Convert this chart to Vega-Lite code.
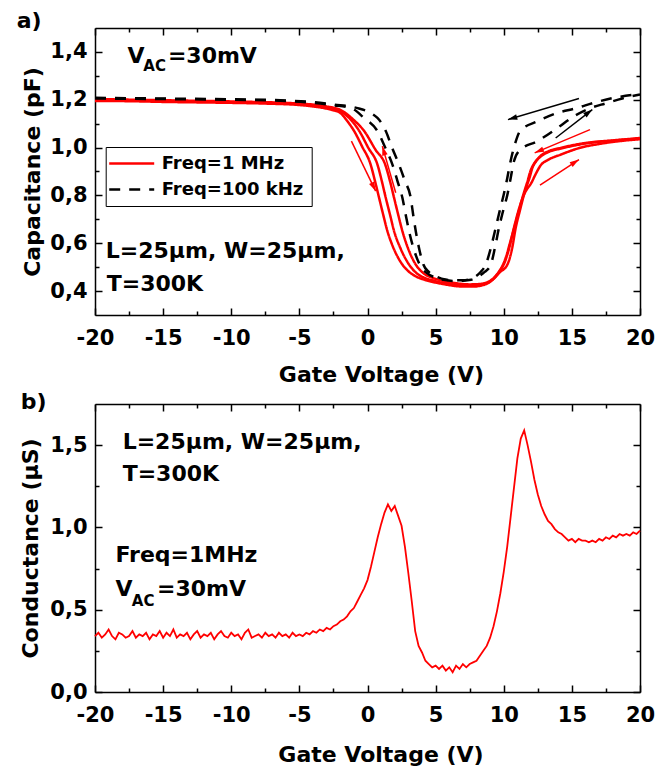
{
  "$schema": "https://vega.github.io/schema/vega-lite/v6.json",
  "padding": {"left": 16, "top": 10, "right": 14, "bottom": 5},
  "bounds": "flush",
  "spacing": 89,
  "config": {
    "font": "DejaVu Sans",
    "view": {"stroke": null},
    "axis": {"domainColor": "#000", "domainWidth": 1.5, "tickColor": "#000", "tickWidth": 1.5, "labelColor": "#000", "titleColor": "#000", "labelFont": "DejaVu Sans", "labelFontWeight": "bold", "labelFontSize": 21, "titleFont": "DejaVu Sans", "titleFontWeight": "bold", "titleFontSize": 22, "grid": false, "labelFlush": false, "labelOverlap": false},
    "text": {"font": "DejaVu Sans", "fontWeight": "bold", "color": "#000"}
  },
  "datasets": {
    "cap": [
      {"sweep":"R1","freq":"Freq=1 MHz","V":-20,"C":1.195},{"sweep":"R1","freq":"Freq=1 MHz","V":-17.5,"C":1.194},{"sweep":"R1","freq":"Freq=1 MHz","V":-15,"C":1.191},{"sweep":"R1","freq":"Freq=1 MHz","V":-12.5,"C":1.189},{"sweep":"R1","freq":"Freq=1 MHz","V":-10,"C":1.187},{"sweep":"R1","freq":"Freq=1 MHz","V":-7.5,"C":1.184},{"sweep":"R1","freq":"Freq=1 MHz","V":-5,"C":1.178},{"sweep":"R1","freq":"Freq=1 MHz","V":-4,"C":1.172},{"sweep":"R1","freq":"Freq=1 MHz","V":-3,"C":1.163},{"sweep":"R1","freq":"Freq=1 MHz","V":-2.5,"C":1.156},{"sweep":"R1","freq":"Freq=1 MHz","V":-2,"C":1.145},{"sweep":"R1","freq":"Freq=1 MHz","V":-1.5,"C":1.112},{"sweep":"R1","freq":"Freq=1 MHz","V":-0.98,"C":1.069},{"sweep":"R1","freq":"Freq=1 MHz","V":-0.4,"C":1.005},{"sweep":"R1","freq":"Freq=1 MHz","V":0.23,"C":0.929},{"sweep":"R1","freq":"Freq=1 MHz","V":0.55,"C":0.86},{"sweep":"R1","freq":"Freq=1 MHz","V":0.85,"C":0.79},{"sweep":"R1","freq":"Freq=1 MHz","V":1.15,"C":0.72},{"sweep":"R1","freq":"Freq=1 MHz","V":1.46,"C":0.651},{"sweep":"R1","freq":"Freq=1 MHz","V":1.8,"C":0.595},{"sweep":"R1","freq":"Freq=1 MHz","V":2.15,"C":0.55},{"sweep":"R1","freq":"Freq=1 MHz","V":2.56,"C":0.511},{"sweep":"R1","freq":"Freq=1 MHz","V":3.0,"C":0.483},{"sweep":"R1","freq":"Freq=1 MHz","V":3.6,"C":0.46},{"sweep":"R1","freq":"Freq=1 MHz","V":4.2,"C":0.447},{"sweep":"R1","freq":"Freq=1 MHz","V":4.64,"C":0.44},{"sweep":"R1","freq":"Freq=1 MHz","V":5.5,"C":0.43},{"sweep":"R1","freq":"Freq=1 MHz","V":6.2,"C":0.423},{"sweep":"R1","freq":"Freq=1 MHz","V":7.0,"C":0.419},{"sweep":"R1","freq":"Freq=1 MHz","V":7.8,"C":0.419},{"sweep":"R1","freq":"Freq=1 MHz","V":8.4,"C":0.424},{"sweep":"R1","freq":"Freq=1 MHz","V":8.9,"C":0.435},{"sweep":"R1","freq":"Freq=1 MHz","V":9.3,"C":0.455},{"sweep":"R1","freq":"Freq=1 MHz","V":9.7,"C":0.485},{"sweep":"R1","freq":"Freq=1 MHz","V":10.0,"C":0.511},{"sweep":"R1","freq":"Freq=1 MHz","V":10.4,"C":0.58},{"sweep":"R1","freq":"Freq=1 MHz","V":10.75,"C":0.665},{"sweep":"R1","freq":"Freq=1 MHz","V":11.1,"C":0.74},{"sweep":"R1","freq":"Freq=1 MHz","V":11.49,"C":0.804},{"sweep":"R1","freq":"Freq=1 MHz","V":11.75,"C":0.83},{"sweep":"R1","freq":"Freq=1 MHz","V":11.98,"C":0.848},{"sweep":"R1","freq":"Freq=1 MHz","V":12.35,"C":0.89},{"sweep":"R1","freq":"Freq=1 MHz","V":12.7,"C":0.925},{"sweep":"R1","freq":"Freq=1 MHz","V":13.3,"C":0.95},{"sweep":"R1","freq":"Freq=1 MHz","V":14.2,"C":0.971},{"sweep":"R1","freq":"Freq=1 MHz","V":15.6,"C":0.999},{"sweep":"R1","freq":"Freq=1 MHz","V":17,"C":1.015},{"sweep":"R1","freq":"Freq=1 MHz","V":18.5,"C":1.027},{"sweep":"R1","freq":"Freq=1 MHz","V":20,"C":1.035},
      {"sweep":"R2","freq":"Freq=1 MHz","V":-20,"C":1.2},{"sweep":"R2","freq":"Freq=1 MHz","V":-17.5,"C":1.198},{"sweep":"R2","freq":"Freq=1 MHz","V":-15,"C":1.195},{"sweep":"R2","freq":"Freq=1 MHz","V":-12.5,"C":1.193},{"sweep":"R2","freq":"Freq=1 MHz","V":-10,"C":1.19},{"sweep":"R2","freq":"Freq=1 MHz","V":-7.5,"C":1.187},{"sweep":"R2","freq":"Freq=1 MHz","V":-5,"C":1.181},{"sweep":"R2","freq":"Freq=1 MHz","V":-4,"C":1.176},{"sweep":"R2","freq":"Freq=1 MHz","V":-3,"C":1.168},{"sweep":"R2","freq":"Freq=1 MHz","V":-2,"C":1.152},{"sweep":"R2","freq":"Freq=1 MHz","V":-1.2,"C":1.115},{"sweep":"R2","freq":"Freq=1 MHz","V":-0.6,"C":1.069},{"sweep":"R2","freq":"Freq=1 MHz","V":0.05,"C":1.0},{"sweep":"R2","freq":"Freq=1 MHz","V":0.73,"C":0.929},{"sweep":"R2","freq":"Freq=1 MHz","V":1.05,"C":0.86},{"sweep":"R2","freq":"Freq=1 MHz","V":1.34,"C":0.79},{"sweep":"R2","freq":"Freq=1 MHz","V":1.65,"C":0.72},{"sweep":"R2","freq":"Freq=1 MHz","V":1.95,"C":0.651},{"sweep":"R2","freq":"Freq=1 MHz","V":2.45,"C":0.575},{"sweep":"R2","freq":"Freq=1 MHz","V":3.05,"C":0.511},{"sweep":"R2","freq":"Freq=1 MHz","V":3.6,"C":0.475},{"sweep":"R2","freq":"Freq=1 MHz","V":4.2,"C":0.455},{"sweep":"R2","freq":"Freq=1 MHz","V":4.9,"C":0.443},{"sweep":"R2","freq":"Freq=1 MHz","V":5.8,"C":0.432},{"sweep":"R2","freq":"Freq=1 MHz","V":7.0,"C":0.425},{"sweep":"R2","freq":"Freq=1 MHz","V":8.0,"C":0.424},{"sweep":"R2","freq":"Freq=1 MHz","V":8.7,"C":0.432},{"sweep":"R2","freq":"Freq=1 MHz","V":9.2,"C":0.448},{"sweep":"R2","freq":"Freq=1 MHz","V":9.7,"C":0.478},{"sweep":"R2","freq":"Freq=1 MHz","V":10.27,"C":0.511},{"sweep":"R2","freq":"Freq=1 MHz","V":10.6,"C":0.575},{"sweep":"R2","freq":"Freq=1 MHz","V":10.88,"C":0.665},{"sweep":"R2","freq":"Freq=1 MHz","V":11.2,"C":0.74},{"sweep":"R2","freq":"Freq=1 MHz","V":11.49,"C":0.804},{"sweep":"R2","freq":"Freq=1 MHz","V":11.72,"C":0.845},{"sweep":"R2","freq":"Freq=1 MHz","V":11.9,"C":0.875},{"sweep":"R2","freq":"Freq=1 MHz","V":12.1,"C":0.915},{"sweep":"R2","freq":"Freq=1 MHz","V":12.4,"C":0.945},{"sweep":"R2","freq":"Freq=1 MHz","V":12.7,"C":0.965},{"sweep":"R2","freq":"Freq=1 MHz","V":13.3,"C":0.985},{"sweep":"R2","freq":"Freq=1 MHz","V":14.2,"C":0.999},{"sweep":"R2","freq":"Freq=1 MHz","V":16.1,"C":1.02},{"sweep":"R2","freq":"Freq=1 MHz","V":18,"C":1.03},{"sweep":"R2","freq":"Freq=1 MHz","V":20,"C":1.04},
      {"sweep":"R3","freq":"Freq=1 MHz","V":-20,"C":1.203},{"sweep":"R3","freq":"Freq=1 MHz","V":-15,"C":1.198},{"sweep":"R3","freq":"Freq=1 MHz","V":-10,"C":1.193},{"sweep":"R3","freq":"Freq=1 MHz","V":-5,"C":1.184},{"sweep":"R3","freq":"Freq=1 MHz","V":-3,"C":1.172},{"sweep":"R3","freq":"Freq=1 MHz","V":-2,"C":1.158},{"sweep":"R3","freq":"Freq=1 MHz","V":-1,"C":1.115},{"sweep":"R3","freq":"Freq=1 MHz","V":-0.24,"C":1.069},{"sweep":"R3","freq":"Freq=1 MHz","V":0.6,"C":0.99},{"sweep":"R3","freq":"Freq=1 MHz","V":1.3,"C":0.929},{"sweep":"R3","freq":"Freq=1 MHz","V":1.65,"C":0.86},{"sweep":"R3","freq":"Freq=1 MHz","V":1.95,"C":0.79},{"sweep":"R3","freq":"Freq=1 MHz","V":2.25,"C":0.72},{"sweep":"R3","freq":"Freq=1 MHz","V":2.56,"C":0.651},{"sweep":"R3","freq":"Freq=1 MHz","V":3.0,"C":0.575},{"sweep":"R3","freq":"Freq=1 MHz","V":3.54,"C":0.511},{"sweep":"R3","freq":"Freq=1 MHz","V":4.1,"C":0.475},{"sweep":"R3","freq":"Freq=1 MHz","V":4.8,"C":0.455},{"sweep":"R3","freq":"Freq=1 MHz","V":5.5,"C":0.443},{"sweep":"R3","freq":"Freq=1 MHz","V":6.5,"C":0.433},{"sweep":"R3","freq":"Freq=1 MHz","V":7.5,"C":0.428},{"sweep":"R3","freq":"Freq=1 MHz","V":8.3,"C":0.43},{"sweep":"R3","freq":"Freq=1 MHz","V":8.9,"C":0.44},{"sweep":"R3","freq":"Freq=1 MHz","V":9.4,"C":0.462},{"sweep":"R3","freq":"Freq=1 MHz","V":9.85,"C":0.5},{"sweep":"R3","freq":"Freq=1 MHz","V":10.15,"C":0.54},{"sweep":"R3","freq":"Freq=1 MHz","V":10.5,"C":0.61},{"sweep":"R3","freq":"Freq=1 MHz","V":10.85,"C":0.68},{"sweep":"R3","freq":"Freq=1 MHz","V":11.2,"C":0.755},{"sweep":"R3","freq":"Freq=1 MHz","V":11.5,"C":0.815},{"sweep":"R3","freq":"Freq=1 MHz","V":11.75,"C":0.86},{"sweep":"R3","freq":"Freq=1 MHz","V":11.95,"C":0.9},{"sweep":"R3","freq":"Freq=1 MHz","V":12.25,"C":0.935},{"sweep":"R3","freq":"Freq=1 MHz","V":12.7,"C":0.962},{"sweep":"R3","freq":"Freq=1 MHz","V":13.3,"C":0.982},{"sweep":"R3","freq":"Freq=1 MHz","V":14.2,"C":0.996},{"sweep":"R3","freq":"Freq=1 MHz","V":16.1,"C":1.018},{"sweep":"R3","freq":"Freq=1 MHz","V":18,"C":1.029},{"sweep":"R3","freq":"Freq=1 MHz","V":20,"C":1.038},
      {"sweep":"B1","freq":"Freq=100 kHz","V":-20,"C":1.205},{"sweep":"B1","freq":"Freq=100 kHz","V":-15,"C":1.203},{"sweep":"B1","freq":"Freq=100 kHz","V":-10,"C":1.2},{"sweep":"B1","freq":"Freq=100 kHz","V":-6,"C":1.195},{"sweep":"B1","freq":"Freq=100 kHz","V":-4,"C":1.187},{"sweep":"B1","freq":"Freq=100 kHz","V":-2.5,"C":1.177},{"sweep":"B1","freq":"Freq=100 kHz","V":-1.23,"C":1.166},{"sweep":"B1","freq":"Freq=100 kHz","V":-0.26,"C":1.124},{"sweep":"B1","freq":"Freq=100 kHz","V":0.73,"C":1.069},{"sweep":"B1","freq":"Freq=100 kHz","V":1.3,"C":1.0},{"sweep":"B1","freq":"Freq=100 kHz","V":1.83,"C":0.929},{"sweep":"B1","freq":"Freq=100 kHz","V":2.2,"C":0.86},{"sweep":"B1","freq":"Freq=100 kHz","V":2.56,"C":0.79},{"sweep":"B1","freq":"Freq=100 kHz","V":2.8,"C":0.72},{"sweep":"B1","freq":"Freq=100 kHz","V":3.05,"C":0.651},{"sweep":"B1","freq":"Freq=100 kHz","V":3.4,"C":0.575},{"sweep":"B1","freq":"Freq=100 kHz","V":3.83,"C":0.511},{"sweep":"B1","freq":"Freq=100 kHz","V":4.3,"C":0.478},{"sweep":"B1","freq":"Freq=100 kHz","V":4.9,"C":0.458},{"sweep":"B1","freq":"Freq=100 kHz","V":5.6,"C":0.447},{"sweep":"B1","freq":"Freq=100 kHz","V":6.3,"C":0.442},{"sweep":"B1","freq":"Freq=100 kHz","V":7.0,"C":0.443},{"sweep":"B1","freq":"Freq=100 kHz","V":7.6,"C":0.447},{"sweep":"B1","freq":"Freq=100 kHz","V":8.1,"C":0.46},{"sweep":"B1","freq":"Freq=100 kHz","V":8.6,"C":0.48},{"sweep":"B1","freq":"Freq=100 kHz","V":9.05,"C":0.511},{"sweep":"B1","freq":"Freq=100 kHz","V":9.35,"C":0.58},{"sweep":"B1","freq":"Freq=100 kHz","V":9.65,"C":0.665},{"sweep":"B1","freq":"Freq=100 kHz","V":9.95,"C":0.735},{"sweep":"B1","freq":"Freq=100 kHz","V":10.27,"C":0.804},{"sweep":"B1","freq":"Freq=100 kHz","V":10.5,"C":0.87},{"sweep":"B1","freq":"Freq=100 kHz","V":10.75,"C":0.943},{"sweep":"B1","freq":"Freq=100 kHz","V":11.2,"C":0.99},{"sweep":"B1","freq":"Freq=100 kHz","V":12.47,"C":1.027},{"sweep":"B1","freq":"Freq=100 kHz","V":13.94,"C":1.082},{"sweep":"B1","freq":"Freq=100 kHz","V":15.16,"C":1.131},{"sweep":"B1","freq":"Freq=100 kHz","V":16.4,"C":1.166},{"sweep":"B1","freq":"Freq=100 kHz","V":17.5,"C":1.185},{"sweep":"B1","freq":"Freq=100 kHz","V":18.7,"C":1.205},{"sweep":"B1","freq":"Freq=100 kHz","V":20,"C":1.222},
      {"sweep":"B2","freq":"Freq=100 kHz","V":-20,"C":1.208},{"sweep":"B2","freq":"Freq=100 kHz","V":-15,"C":1.205},{"sweep":"B2","freq":"Freq=100 kHz","V":-10,"C":1.202},{"sweep":"B2","freq":"Freq=100 kHz","V":-6,"C":1.197},{"sweep":"B2","freq":"Freq=100 kHz","V":-4,"C":1.19},{"sweep":"B2","freq":"Freq=100 kHz","V":-2.5,"C":1.18},{"sweep":"B2","freq":"Freq=100 kHz","V":-0.8,"C":1.166},{"sweep":"B2","freq":"Freq=100 kHz","V":0.73,"C":1.124},{"sweep":"B2","freq":"Freq=100 kHz","V":1.34,"C":1.069},{"sweep":"B2","freq":"Freq=100 kHz","V":1.8,"C":1.0},{"sweep":"B2","freq":"Freq=100 kHz","V":2.31,"C":0.929},{"sweep":"B2","freq":"Freq=100 kHz","V":2.75,"C":0.86},{"sweep":"B2","freq":"Freq=100 kHz","V":3.17,"C":0.79},{"sweep":"B2","freq":"Freq=100 kHz","V":3.35,"C":0.72},{"sweep":"B2","freq":"Freq=100 kHz","V":3.54,"C":0.651},{"sweep":"B2","freq":"Freq=100 kHz","V":3.8,"C":0.575},{"sweep":"B2","freq":"Freq=100 kHz","V":4.1,"C":0.511},{"sweep":"B2","freq":"Freq=100 kHz","V":4.5,"C":0.48},{"sweep":"B2","freq":"Freq=100 kHz","V":5.0,"C":0.462},{"sweep":"B2","freq":"Freq=100 kHz","V":5.7,"C":0.448},{"sweep":"B2","freq":"Freq=100 kHz","V":6.3,"C":0.445},{"sweep":"B2","freq":"Freq=100 kHz","V":7.0,"C":0.445},{"sweep":"B2","freq":"Freq=100 kHz","V":7.5,"C":0.45},{"sweep":"B2","freq":"Freq=100 kHz","V":7.9,"C":0.46},{"sweep":"B2","freq":"Freq=100 kHz","V":8.3,"C":0.48},{"sweep":"B2","freq":"Freq=100 kHz","V":8.68,"C":0.511},{"sweep":"B2","freq":"Freq=100 kHz","V":9.05,"C":0.58},{"sweep":"B2","freq":"Freq=100 kHz","V":9.41,"C":0.665},{"sweep":"B2","freq":"Freq=100 kHz","V":9.7,"C":0.735},{"sweep":"B2","freq":"Freq=100 kHz","V":10.0,"C":0.804},{"sweep":"B2","freq":"Freq=100 kHz","V":10.25,"C":0.87},{"sweep":"B2","freq":"Freq=100 kHz","V":10.5,"C":0.943},{"sweep":"B2","freq":"Freq=100 kHz","V":10.85,"C":1.02},{"sweep":"B2","freq":"Freq=100 kHz","V":11.2,"C":1.069},{"sweep":"B2","freq":"Freq=100 kHz","V":12.47,"C":1.11},{"sweep":"B2","freq":"Freq=100 kHz","V":13.94,"C":1.145},{"sweep":"B2","freq":"Freq=100 kHz","V":15.4,"C":1.166},{"sweep":"B2","freq":"Freq=100 kHz","V":16.6,"C":1.187},{"sweep":"B2","freq":"Freq=100 kHz","V":18.1,"C":1.208},{"sweep":"B2","freq":"Freq=100 kHz","V":20,"C":1.224}
    ],
    "capText": [
      {"label":"V","x":-17.62,"y":1.354,"kind":"main"},
      {"label":"AC","x":-16.45,"y":1.322,"kind":"sub"},
      {"label":"=30mV","x":-14.65,"y":1.354,"kind":"main"},
      {"label":"L=25μm, W=25μm,","x":-19.21,"y":0.539,"kind":"main"},
      {"label":"T=300K","x":-19.14,"y":0.40,"kind":"main"},
      {"label":"a)","x":-25.75,"y":1.5,"kind":"main"}
    ],
    "arrows": [
      {"id":"a1","freq":"Freq=1 MHz","x1":-1.18,"y1":1.027,"x2":0.6,"y2":0.818},
      {"id":"a2","freq":"Freq=1 MHz","x1":2.07,"y1":0.811,"x2":1.09,"y2":1.006},
      {"id":"a3","freq":"Freq=100 kHz","x1":15.52,"y1":1.205,"x2":10.31,"y2":1.117},
      {"id":"a4","freq":"Freq=100 kHz","x1":13.81,"y1":1.04,"x2":16.5,"y2":1.159},
      {"id":"a5","freq":"Freq=1 MHz","x1":16.33,"y1":1.075,"x2":12.27,"y2":0.978},
      {"id":"a6","freq":"Freq=1 MHz","x1":12.66,"y1":0.843,"x2":15.52,"y2":0.95}
    ],
    "cond": [
      {"V":-20,"G":0.34},{"V":-19.75,"G":0.36},{"V":-19.5,"G":0.33},{"V":-19.25,"G":0.35},{"V":-19,"G":0.38},{"V":-18.75,"G":0.34},{"V":-18.5,"G":0.32},{"V":-18.25,"G":0.36},{"V":-18,"G":0.35},{"V":-17.75,"G":0.33},{"V":-17.5,"G":0.34},{"V":-17.25,"G":0.37},{"V":-17,"G":0.33},{"V":-16.75,"G":0.35},{"V":-16.5,"G":0.34},{"V":-16.25,"G":0.36},{"V":-16,"G":0.32},{"V":-15.75,"G":0.35},{"V":-15.5,"G":0.34},{"V":-15.25,"G":0.37},{"V":-15,"G":0.33},{"V":-14.75,"G":0.36},{"V":-14.5,"G":0.34},{"V":-14.25,"G":0.38},{"V":-14,"G":0.33},{"V":-13.75,"G":0.35},{"V":-13.5,"G":0.34},{"V":-13.25,"G":0.36},{"V":-13,"G":0.32},{"V":-12.75,"G":0.35},{"V":-12.5,"G":0.37},{"V":-12.25,"G":0.33},{"V":-12,"G":0.35},{"V":-11.75,"G":0.34},{"V":-11.5,"G":0.36},{"V":-11.25,"G":0.32},{"V":-11,"G":0.35},{"V":-10.75,"G":0.37},{"V":-10.5,"G":0.34},{"V":-10.25,"G":0.33},{"V":-10,"G":0.36},{"V":-9.75,"G":0.34},{"V":-9.5,"G":0.35},{"V":-9.25,"G":0.32},{"V":-9,"G":0.36},{"V":-8.75,"G":0.38},{"V":-8.5,"G":0.33},{"V":-8.25,"G":0.34},{"V":-8,"G":0.35},{"V":-7.75,"G":0.33},{"V":-7.5,"G":0.36},{"V":-7.25,"G":0.34},{"V":-7,"G":0.35},{"V":-6.75,"G":0.33},{"V":-6.5,"G":0.36},{"V":-6.25,"G":0.34},{"V":-6,"G":0.35},{"V":-5.75,"G":0.33},{"V":-5.5,"G":0.36},{"V":-5.25,"G":0.34},{"V":-5,"G":0.35},{"V":-4.75,"G":0.34},{"V":-4.5,"G":0.36},{"V":-4.25,"G":0.35},{"V":-4,"G":0.37},{"V":-3.75,"G":0.36},{"V":-3.5,"G":0.38},{"V":-3.25,"G":0.37},{"V":-3,"G":0.39},{"V":-2.75,"G":0.38},{"V":-2.5,"G":0.40},{"V":-2.25,"G":0.41},{"V":-2,"G":0.43},{"V":-1.75,"G":0.44},{"V":-1.5,"G":0.46},{"V":-1.25,"G":0.49},{"V":-1,"G":0.51},{"V":-0.75,"G":0.55},{"V":-0.5,"G":0.59},{"V":-0.25,"G":0.63},{"V":0,"G":0.68},{"V":0.25,"G":0.76},{"V":0.5,"G":0.85},{"V":0.75,"G":0.94},{"V":1,"G":1.02},{"V":1.25,"G":1.09},{"V":1.5,"G":1.14},{"V":1.75,"G":1.10},{"V":2,"G":1.13},{"V":2.25,"G":1.07},{"V":2.5,"G":1.01},{"V":2.75,"G":0.88},{"V":3,"G":0.72},{"V":3.25,"G":0.55},{"V":3.5,"G":0.37},{"V":3.75,"G":0.28},{"V":4,"G":0.24},{"V":4.25,"G":0.19},{"V":4.5,"G":0.17},{"V":4.75,"G":0.15},{"V":5,"G":0.16},{"V":5.25,"G":0.14},{"V":5.5,"G":0.16},{"V":5.75,"G":0.13},{"V":6,"G":0.15},{"V":6.25,"G":0.12},{"V":6.5,"G":0.16},{"V":6.75,"G":0.14},{"V":7,"G":0.17},{"V":7.25,"G":0.15},{"V":7.5,"G":0.17},{"V":7.75,"G":0.18},{"V":8,"G":0.19},{"V":8.25,"G":0.22},{"V":8.5,"G":0.25},{"V":8.75,"G":0.28},{"V":9,"G":0.33},{"V":9.25,"G":0.40},{"V":9.5,"G":0.49},{"V":9.75,"G":0.60},{"V":10,"G":0.73},{"V":10.25,"G":0.88},{"V":10.5,"G":1.06},{"V":10.75,"G":1.24},{"V":11,"G":1.42},{"V":11.25,"G":1.54},{"V":11.5,"G":1.59},{"V":11.75,"G":1.50},{"V":12,"G":1.40},{"V":12.25,"G":1.29},{"V":12.5,"G":1.20},{"V":12.75,"G":1.13},{"V":13,"G":1.08},{"V":13.25,"G":1.04},{"V":13.5,"G":1.02},{"V":13.75,"G":0.99},{"V":14,"G":0.97},{"V":14.25,"G":0.96},{"V":14.5,"G":0.94},{"V":14.75,"G":0.92},{"V":15,"G":0.93},{"V":15.25,"G":0.91},{"V":15.5,"G":0.93},{"V":15.75,"G":0.92},{"V":16,"G":0.92},{"V":16.25,"G":0.91},{"V":16.5,"G":0.92},{"V":16.75,"G":0.91},{"V":17,"G":0.93},{"V":17.25,"G":0.92},{"V":17.5,"G":0.94},{"V":17.75,"G":0.93},{"V":18,"G":0.95},{"V":18.25,"G":0.94},{"V":18.5,"G":0.96},{"V":18.75,"G":0.95},{"V":19,"G":0.96},{"V":19.25,"G":0.95},{"V":19.5,"G":0.97},{"V":19.75,"G":0.96},{"V":20,"G":0.98}
    ],
    "condText": [
      {"label":"L=25μm, W=25μm,","x":-17.97,"y":1.477,"kind":"main"},
      {"label":"T=300K","x":-17.97,"y":1.285,"kind":"main"},
      {"label":"Freq=1MHz","x":-18.5,"y":0.787,"kind":"main"},
      {"label":"V","x":-18.5,"y":0.584,"kind":"main"},
      {"label":"AC","x":-17.3,"y":0.523,"kind":"sub"},
      {"label":"=30mV","x":-15.45,"y":0.584,"kind":"main"},
      {"label":"b)","x":-25.45,"y":1.72,"kind":"main"}
    ]
  },
  "vconcat": [
    {
      "width": 545,
      "height": 287,
      "resolve": {"axis": {"x": "independent", "y": "independent"}},
      "layer": [
        {
          "data": {"name": "cap"},
          "mark": {"type": "point", "opacity": 0},
          "encoding": {
            "x": {"field": "V", "type": "quantitative", "scale": {"domain": [-20, 20], "nice": false, "zero": false},
              "axis": {"orient": "bottom", "values": [-20,-15,-10,-5,0,5,10,15,20], "ticks": false, "labelPadding": 29, "labelBaseline": "alphabetic", "labelExpr": "datum.value + ''", "title": "Gate Voltage (V)", "titleX": 286, "titleY": 66, "titleAlign": "center", "titleBaseline": "alphabetic"}},
            "y": {"field": "C", "type": "quantitative", "scale": {"domain": [0.3, 1.5], "nice": false, "zero": false},
              "axis": {"orient": "left", "values": [0.4,0.6,0.8,1.0,1.2,1.4], "ticks": false, "labelPadding": 8, "labelExpr": "replace(format(datum.value, '.1f'), '.', ',')", "title": "Capacitance (pF)", "titleX": -56, "titleY": 143.5, "titleAngle": 270, "titleAlign": "center", "titleBaseline": "alphabetic"}}
          }
        },
        {
          "data": {"name": "cap"},
          "mark": {"type": "point", "opacity": 0},
          "encoding": {
            "x": {"field": "V", "type": "quantitative", "scale": {"domain": [-20, 20], "nice": false, "zero": false},
              "axis": {"orient": "bottom", "values": [-20,-15,-10,-5,0,5,10,15,20], "tickSize": -7, "labels": false, "domain": false, "title": null}},
            "y": {"field": "C", "type": "quantitative", "scale": {"domain": [0.3, 1.5], "nice": false, "zero": false},
              "axis": {"orient": "left", "values": [0.4,0.6,0.8,1.0,1.2,1.4], "tickSize": -7, "labels": false, "domain": false, "title": null}}
          }
        },
        {
          "data": {"name": "cap"},
          "mark": {"type": "point", "opacity": 0},
          "encoding": {
            "x": {"field": "V", "type": "quantitative", "scale": {"domain": [-20, 20], "nice": false, "zero": false},
              "axis": {"orient": "bottom", "values": [-17.5,-12.5,-7.5,-2.5,2.5,7.5,12.5,17.5], "tickSize": -4, "labels": false, "domain": false, "title": null}},
            "y": {"field": "C", "type": "quantitative", "scale": {"domain": [0.3, 1.5], "nice": false, "zero": false},
              "axis": {"orient": "left", "values": [0.5,0.7,0.9,1.1,1.3], "tickSize": -4, "labels": false, "domain": false, "title": null}}
          }
        },
        {
          "data": {"name": "cap"},
          "mark": {"type": "point", "opacity": 0},
          "encoding": {
            "x": {"field": "V", "type": "quantitative", "scale": {"domain": [-20, 20], "nice": false, "zero": false},
              "axis": {"orient": "top", "values": [-20,-15,-10,-5,0,5,10,15,20], "tickSize": -7, "labels": false, "domain": true, "title": null}},
            "y": {"field": "C", "type": "quantitative", "scale": {"domain": [0.3, 1.5], "nice": false, "zero": false},
              "axis": {"orient": "right", "values": [0.4,0.6,0.8,1.0,1.2,1.4], "tickSize": -7, "labels": false, "domain": true, "title": null}}
          }
        },
        {
          "data": {"name": "cap"},
          "mark": {"type": "point", "opacity": 0},
          "encoding": {
            "x": {"field": "V", "type": "quantitative", "scale": {"domain": [-20, 20], "nice": false, "zero": false},
              "axis": {"orient": "top", "values": [-17.5,-12.5,-7.5,-2.5,2.5,7.5,12.5,17.5], "tickSize": -4, "labels": false, "domain": false, "title": null}},
            "y": {"field": "C", "type": "quantitative", "scale": {"domain": [0.3, 1.5], "nice": false, "zero": false},
              "axis": {"orient": "right", "values": [0.5,0.7,0.9,1.1,1.3], "tickSize": -4, "labels": false, "domain": false, "title": null}}
          }
        },
        {
          "data": {"name": "cap"},
          "mark": {"type": "line", "strokeWidth": 2.5, "interpolate": "monotone"},
          "encoding": {
            "x": {"field": "V", "type": "quantitative", "scale": {"domain": [-20, 20], "nice": false, "zero": false}, "axis": null},
            "y": {"field": "C", "type": "quantitative", "scale": {"domain": [0.3, 1.5], "nice": false, "zero": false}, "axis": null},
            "detail": {"field": "sweep", "type": "nominal"},
            "color": {"field": "freq", "type": "nominal", "scale": {"domain": ["Freq=1 MHz", "Freq=100 kHz"], "range": ["#ff0000", "#000000"]},
              "legend": {"title": null, "orient": "none", "legendX": 10.7, "legendY": 119, "symbolType": "M-3,0H3", "symbolSize": 225, "symbolStrokeWidth": 2.5, "symbolOffset": 9.5, "labelOffset": 21, "padding": 7.5, "rowPadding": 8, "strokeColor": "#000", "fillColor": "#fff", "labelFont": "DejaVu Sans", "labelFontWeight": "bold", "labelFontSize": 18, "labelColor": "#000", "labelLimit": 0}},
            "strokeDash": {"field": "freq", "type": "nominal", "scale": {"domain": ["Freq=1 MHz", "Freq=100 kHz"], "range": [[1, 0], [11, 9]]},
              "legend": {"title": null, "orient": "none", "legendX": 10.7, "legendY": 119, "symbolType": "M-3,0H3", "symbolSize": 225, "symbolStrokeWidth": 2.5, "symbolOffset": 9.5, "labelOffset": 21, "padding": 7.5, "rowPadding": 8, "strokeColor": "#000", "fillColor": "#fff", "labelFont": "DejaVu Sans", "labelFontWeight": "bold", "labelFontSize": 18, "labelColor": "#000", "labelLimit": 0}}
          }
        },
        {
          "data": {"name": "arrows"},
          "mark": {"type": "rule", "strokeWidth": 1.5},
          "encoding": {
            "x": {"field": "x1", "type": "quantitative", "scale": {"domain": [-20, 20], "nice": false, "zero": false}, "axis": null},
            "y": {"field": "y1", "type": "quantitative", "scale": {"domain": [0.3, 1.5], "nice": false, "zero": false}, "axis": null},
            "x2": {"field": "x2"},
            "y2": {"field": "y2"},
            "color": {"field": "freq", "type": "nominal", "scale": {"domain": ["Freq=1 MHz", "Freq=100 kHz"], "range": ["#ff0000", "#000000"]}, "legend": null}
          }
        },
        {
          "data": {"name": "arrows"},
          "mark": {"type": "point", "filled": true, "size": 350, "opacity": 1, "strokeWidth": 0},
          "encoding": {
            "x": {"field": "x2", "type": "quantitative", "scale": {"domain": [-20, 20], "nice": false, "zero": false}, "axis": null},
            "y": {"field": "y2", "type": "quantitative", "scale": {"domain": [0.3, 1.5], "nice": false, "zero": false}, "axis": null},
            "shape": {"field": "id", "type": "nominal", "legend": null, "scale": {"domain": ["a1","a2","a3","a4","a5","a6"], "range": [
              "M0,0L-0.706,-0.768L-0.166,-1.03Z",
              "M0,0L0.563,0.878L-0.013,1.044Z",
              "M0,0L0.874,-0.572L1.044,0.004Z",
              "M0,0L-0.606,0.851L-0.974,0.377Z",
              "M0,0L0.806,-0.664L1.038,-0.11Z",
              "M0,0L-0.671,0.8L-1.001,0.298Z"]}},
            "color": {"field": "freq", "type": "nominal", "scale": {"domain": ["Freq=1 MHz", "Freq=100 kHz"], "range": ["#ff0000", "#000000"]}, "legend": null}
          }
        },
        {
          "data": {"name": "capText"},
          "transform": [{"filter": "datum.kind === 'main'"}],
          "mark": {"type": "text", "align": "left", "baseline": "alphabetic", "fontSize": 22, "fontWeight": "bold"},
          "encoding": {
            "x": {"field": "x", "type": "quantitative", "scale": {"domain": [-20, 20], "nice": false, "zero": false}, "axis": null},
            "y": {"field": "y", "type": "quantitative", "scale": {"domain": [0.3, 1.5], "nice": false, "zero": false}, "axis": null},
            "text": {"field": "label"}
          }
        },
        {
          "data": {"name": "capText"},
          "transform": [{"filter": "datum.kind === 'sub'"}],
          "mark": {"type": "text", "align": "left", "baseline": "alphabetic", "fontSize": 15, "fontWeight": "bold"},
          "encoding": {
            "x": {"field": "x", "type": "quantitative", "scale": {"domain": [-20, 20], "nice": false, "zero": false}, "axis": null},
            "y": {"field": "y", "type": "quantitative", "scale": {"domain": [0.3, 1.5], "nice": false, "zero": false}, "axis": null},
            "text": {"field": "label"}
          }
        }
      ]
    },
    {
      "width": 545,
      "height": 288,
      "resolve": {"axis": {"x": "independent", "y": "independent"}},
      "layer": [
        {
          "data": {"name": "cond"},
          "mark": {"type": "point", "opacity": 0},
          "encoding": {
            "x": {"field": "V", "type": "quantitative", "scale": {"domain": [-20, 20], "nice": false, "zero": false},
              "axis": {"orient": "bottom", "values": [-20,-15,-10,-5,0,5,10,15,20], "ticks": false, "labelPadding": 29, "labelBaseline": "alphabetic", "labelExpr": "datum.value + ''", "title": "Gate Voltage (V)", "titleX": 285.5, "titleY": 69, "titleAlign": "center", "titleBaseline": "alphabetic"}},
            "y": {"field": "G", "type": "quantitative", "scale": {"domain": [0, 1.75], "nice": false, "zero": false},
              "axis": {"orient": "left", "values": [0, 0.5, 1, 1.5], "ticks": false, "labelPadding": 8, "labelExpr": "replace(format(datum.value, '.1f'), '.', ',')", "title": "Conductance (μS)", "titleX": -57.5, "titleY": 144, "titleAngle": 270, "titleAlign": "center", "titleBaseline": "alphabetic"}}
          }
        },
        {
          "data": {"name": "cond"},
          "mark": {"type": "point", "opacity": 0},
          "encoding": {
            "x": {"field": "V", "type": "quantitative", "scale": {"domain": [-20, 20], "nice": false, "zero": false},
              "axis": {"orient": "bottom", "values": [-20,-15,-10,-5,0,5,10,15,20], "tickSize": -7, "labels": false, "domain": false, "title": null}},
            "y": {"field": "G", "type": "quantitative", "scale": {"domain": [0, 1.75], "nice": false, "zero": false},
              "axis": {"orient": "left", "values": [0, 0.5, 1, 1.5], "tickSize": -7, "labels": false, "domain": false, "title": null}}
          }
        },
        {
          "data": {"name": "cond"},
          "mark": {"type": "point", "opacity": 0},
          "encoding": {
            "x": {"field": "V", "type": "quantitative", "scale": {"domain": [-20, 20], "nice": false, "zero": false},
              "axis": {"orient": "bottom", "values": [-17.5,-12.5,-7.5,-2.5,2.5,7.5,12.5,17.5], "tickSize": -4, "labels": false, "domain": false, "title": null}},
            "y": {"field": "G", "type": "quantitative", "scale": {"domain": [0, 1.75], "nice": false, "zero": false},
              "axis": {"orient": "left", "values": [0.25, 0.75, 1.25], "tickSize": -4, "labels": false, "domain": false, "title": null}}
          }
        },
        {
          "data": {"name": "cond"},
          "mark": {"type": "point", "opacity": 0},
          "encoding": {
            "x": {"field": "V", "type": "quantitative", "scale": {"domain": [-20, 20], "nice": false, "zero": false},
              "axis": {"orient": "top", "values": [-20,-15,-10,-5,0,5,10,15,20], "tickSize": -7, "labels": false, "domain": true, "title": null}},
            "y": {"field": "G", "type": "quantitative", "scale": {"domain": [0, 1.75], "nice": false, "zero": false},
              "axis": {"orient": "right", "values": [0, 0.5, 1, 1.5], "tickSize": -7, "labels": false, "domain": true, "title": null}}
          }
        },
        {
          "data": {"name": "cond"},
          "mark": {"type": "point", "opacity": 0},
          "encoding": {
            "x": {"field": "V", "type": "quantitative", "scale": {"domain": [-20, 20], "nice": false, "zero": false},
              "axis": {"orient": "top", "values": [-17.5,-12.5,-7.5,-2.5,2.5,7.5,12.5,17.5], "tickSize": -4, "labels": false, "domain": false, "title": null}},
            "y": {"field": "G", "type": "quantitative", "scale": {"domain": [0, 1.75], "nice": false, "zero": false},
              "axis": {"orient": "right", "values": [0.25, 0.75, 1.25], "tickSize": -4, "labels": false, "domain": false, "title": null}}
          }
        },
        {
          "data": {"name": "cond"},
          "mark": {"type": "line", "strokeWidth": 1.8, "color": "#ff0000"},
          "encoding": {
            "x": {"field": "V", "type": "quantitative", "scale": {"domain": [-20, 20], "nice": false, "zero": false}, "axis": null},
            "y": {"field": "G", "type": "quantitative", "scale": {"domain": [0, 1.75], "nice": false, "zero": false}, "axis": null}
          }
        },
        {
          "data": {"name": "condText"},
          "transform": [{"filter": "datum.kind === 'main'"}],
          "mark": {"type": "text", "align": "left", "baseline": "alphabetic", "fontSize": 22, "fontWeight": "bold"},
          "encoding": {
            "x": {"field": "x", "type": "quantitative", "scale": {"domain": [-20, 20], "nice": false, "zero": false}, "axis": null},
            "y": {"field": "y", "type": "quantitative", "scale": {"domain": [0, 1.75], "nice": false, "zero": false}, "axis": null},
            "text": {"field": "label"}
          }
        },
        {
          "data": {"name": "condText"},
          "transform": [{"filter": "datum.kind === 'sub'"}],
          "mark": {"type": "text", "align": "left", "baseline": "alphabetic", "fontSize": 15, "fontWeight": "bold"},
          "encoding": {
            "x": {"field": "x", "type": "quantitative", "scale": {"domain": [-20, 20], "nice": false, "zero": false}, "axis": null},
            "y": {"field": "y", "type": "quantitative", "scale": {"domain": [0, 1.75], "nice": false, "zero": false}, "axis": null},
            "text": {"field": "label"}
          }
        }
      ]
    }
  ]
}
